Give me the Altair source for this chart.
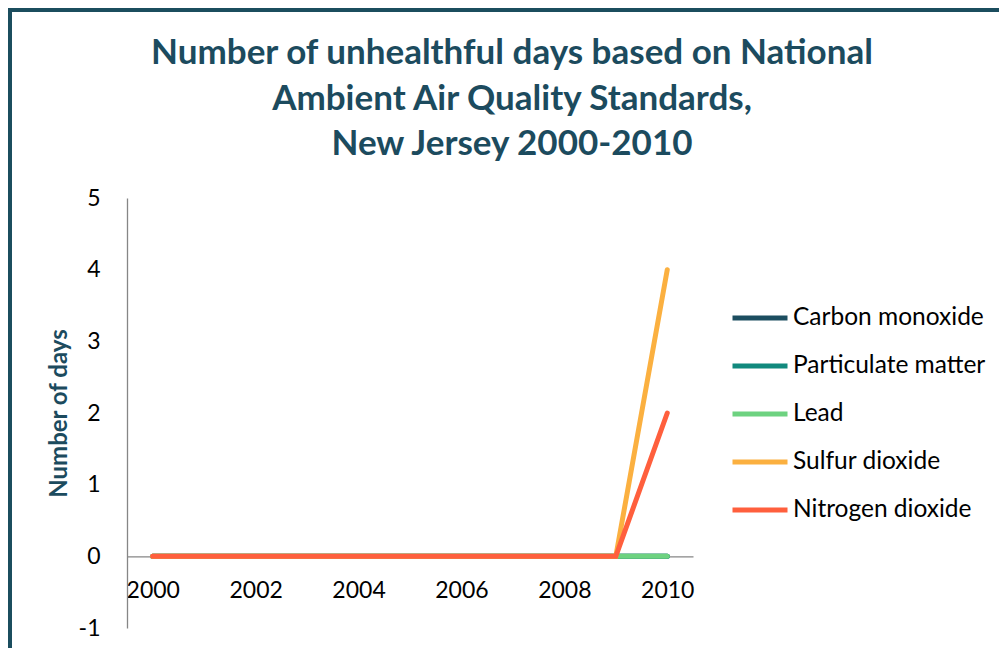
import altair as alt
import pandas as pd

years = list(range(2000, 2011))
series_names = ["Carbon monoxide", "Particulate matter", "Lead", "Sulfur dioxide", "Nitrogen dioxide"]
carbon_monoxide = [0, 0, 0, 0, 0, 0, 0, 0, 0, 0, 0]
particulate_matter = [0, 0, 0, 0, 0, 0, 0, 0, 0, 0, 0]
lead = [0, 0, 0, 0, 0, 0, 0, 0, 0, 0, 0]
sulfur_dioxide = [0, 0, 0, 0, 0, 0, 0, 0, 0, 0, 4]
nitrogen_dioxide = [0, 0, 0, 0, 0, 0, 0, 0, 0, 0, 2]
colors = ["#1c4e60", "#11897d", "#6dd280", "#fbb040", "#ff5f3d"]
x_ticks = [2000, 2002, 2004, 2006, 2008, 2010]
y_ticks = [-1, 0, 1, 2, 3, 4, 5]
title_lines = ["Number of unhealthful days based on National", "Ambient Air Quality Standards,", "New Jersey 2000-2010"]

all_values = [carbon_monoxide, particulate_matter, lead, sulfur_dioxide, nitrogen_dioxide]
rows = []
for name, vals in zip(series_names, all_values):
    for yr, v in zip(years, vals):
        rows.append({"Year": yr, "Days": v, "Pollutant": name})
df = pd.DataFrame(rows)

TEAL = "#1c4b5e"
FRAME = "#1b4d5e"
FONT = "Lato"

lines = alt.Chart(df).mark_line(strokeWidth=5, strokeCap="round", strokeJoin="miter").encode(
    x=alt.X("Year:Q",
            scale=alt.Scale(domain=[1999.5, 2010.5], nice=False, zero=False),
            axis=alt.Axis(values=x_ticks, format="d", title=None, grid=False, ticks=False,
                          offset=-71.67, labelPadding=23, labelFontSize=23, labelFont=FONT,
                          labelColor="#000000", domainColor="#868686", domainWidth=1.3)),
    y=alt.Y("Days:Q",
            scale=alt.Scale(domain=[-1, 5], nice=False),
            axis=alt.Axis(values=y_ticks, title="Number of days", grid=False, ticks=False,
                          labelExpr="'' + datum.value",
                          labelPadding=27, labelFontSize=23, labelFont=FONT, labelColor="#000000",
                          domainColor="#868686", domainWidth=1.3,
                          titleFont=FONT, titleFontSize=24, titleFontWeight="bold",
                          titleColor=TEAL, titlePadding=7)),
    color=alt.Color("Pollutant:N",
                    scale=alt.Scale(domain=series_names, range=colors),
                    legend=alt.Legend(title=None, orient="none", legendX=603, legendY=90,
                                      symbolType="stroke", symbolSize=3025, symbolStrokeWidth=5,
                                      labelFont=FONT, labelFontSize=24.5, labelColor="#000000",
                                      labelOffset=3, rowPadding=6, labelLimit=0)),
    order=alt.Order("Year:Q"),
)

one_row = pd.DataFrame({"k": [0]})
frame_top = alt.Chart(one_row).mark_rule(stroke=FRAME, strokeWidth=4).encode(
    x=alt.value(-119), x2=alt.value(880), y=alt.value(-188)
)
frame_left = alt.Chart(one_row).mark_rule(stroke=FRAME, strokeWidth=4).encode(
    x=alt.value(-117), y=alt.value(-190), y2=alt.value(460)
)

title = alt.Chart(one_row).mark_text(
    text=title_lines, font=FONT, fontSize=35, fontWeight="bold", color=TEAL,
    align="center", baseline="top", lineHeight=45.5,
).encode(x=alt.value(385), y=alt.value(-162))

chart = alt.layer(frame_top, frame_left, title, lines).properties(
    width=566, height=430,
    padding={"left": 119, "top": 190, "right": 306, "bottom": 20},
    autosize=alt.AutoSizeParams(type="none"),
    background="white",
).configure_view(strokeWidth=0, stroke="transparent")

chart.save("out.html", embed_options={"renderer": "svg", "actions": False})
